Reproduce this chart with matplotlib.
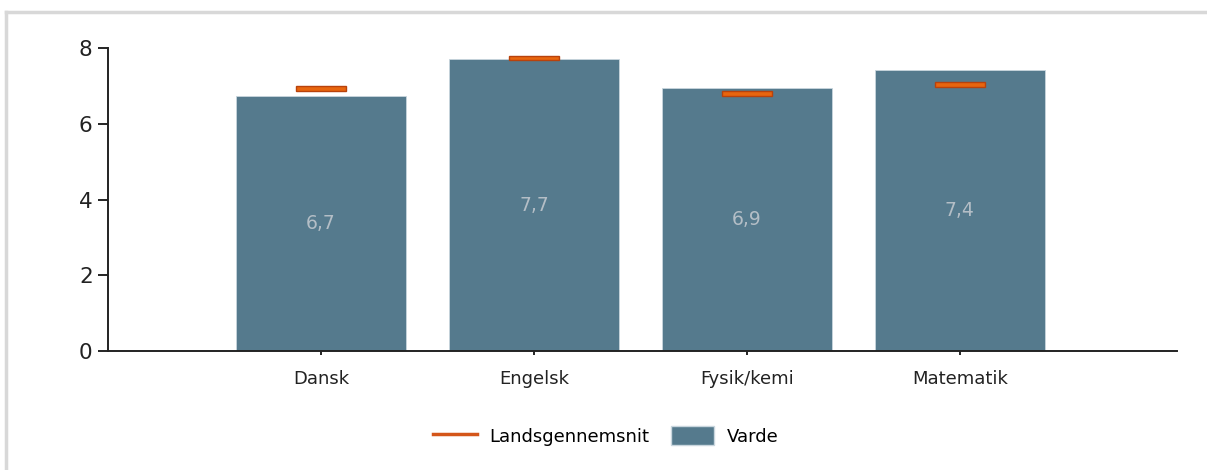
import matplotlib
matplotlib.use('Agg')
import matplotlib.pyplot as plt
from matplotlib.lines import Line2D
from matplotlib.patches import Patch
import numpy as np

plt.rcParams['font.family'] = ['DejaVu Sans']

BAR    = "#557a8d"
ORANGE = "#e8650e"
DKRED  = "#b8420c"
LABEL  = "#b4bec6"
TXT    = "#222222"

subjects = ['Dansk', 'Engelsk', 'Fysik/kemi', 'Matematik']
varde = [6.73, 7.70, 6.95, 7.43]
varde_labels = ['6,7', '7,7', '6,9', '7,4']
landsgns = [6.93, 7.73, 6.80, 7.04]
yticks = [0, 2, 4, 6, 8]

fig = plt.figure(figsize=(12.07, 4.70), dpi=100)
ax = fig.add_axes([108/1207, 1 - 351/470, (1177-108)/1207, (351-48)/470])

x = np.arange(len(subjects))
bars = ax.bar(x, varde, width=0.8, color=BAR, edgecolor='#c9d6de', linewidth=0.6, zorder=2)
for xi, v, lab in zip(x, varde, varde_labels):
    ax.text(xi, v / 2, lab, ha='center', va='center', fontsize=13.5, color=LABEL, zorder=3)

mh = 0.12
ax.bar(x, [mh] * len(x), bottom=[a - mh/2 for a in landsgns], width=0.235,
       color=ORANGE, edgecolor=DKRED, linewidth=1.0, zorder=4)

ax.set_xlim(-1, 4.02)
ax.set_ylim(0, 8)
ax.set_yticks(yticks)
ax.set_yticklabels([str(t) for t in yticks], fontsize=15.5, color=TXT)
ax.set_xticks(x)
ax.set_xticklabels(subjects, fontsize=13, color=TXT)
ax.tick_params(axis='y', length=7, width=1.2, pad=4)
ax.tick_params(axis='x', length=3, width=1.2, pad=11)
ax.spines['top'].set_visible(False)
ax.spines['right'].set_visible(False)
ax.spines['left'].set_linewidth(1.4)
ax.spines['bottom'].set_linewidth(1.4)
ax.spines['left'].set_color(TXT)
ax.spines['bottom'].set_color(TXT)

handles = [Line2D([0], [0], color='#d4561a', linewidth=2.5),
           Patch(facecolor=BAR, edgecolor='#c9d6de')]
fig.legend(handles, ['Landsgennemsnit', 'Varde'], loc='center', bbox_to_anchor=(606/1207, 1 - 436/470),
           ncol=2, frameon=False, fontsize=13, handlelength=2.4, handleheight=1.2,
           columnspacing=1.2, handletextpad=0.7)

# light frame lines on top and left
fig.add_artist(Line2D([6/1207, 1], [1 - 12/470, 1 - 12/470], color='#d8d8d8', linewidth=2.5, transform=fig.transFigure))
fig.add_artist(Line2D([6/1207, 6/1207], [0, 1 - 12/470], color='#d8d8d8', linewidth=2.5, transform=fig.transFigure))

fig.savefig('out.png', dpi=100)
